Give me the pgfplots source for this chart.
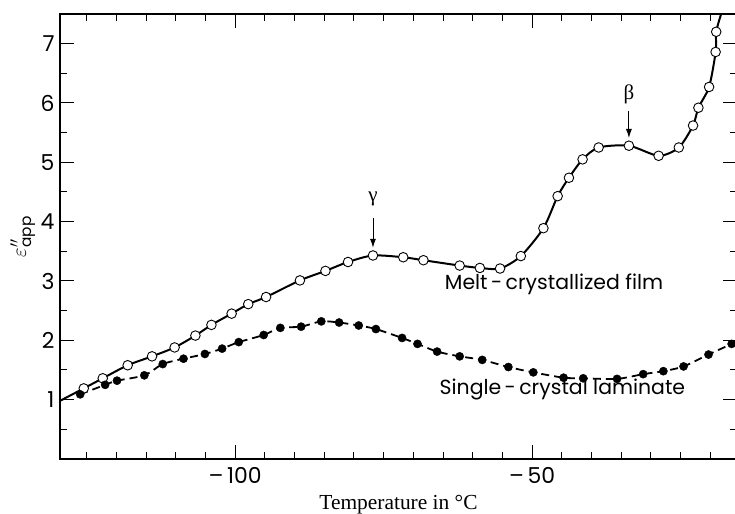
\documentclass[border=0pt]{standalone}
\usepackage{fontspec}
\setmainfont{Poppins}
\newfontfamily\seriff{Liberation Serif}
\usepackage{pgfplots}
\pgfplotsset{compat=1.18}
\usetikzlibrary{arrows.meta}

\pgfplotstableread{
x y
-129.5 0.98
-125.5 1.19
-122.3 1.36
-118.1 1.58
-114.0 1.73
-110.2 1.88
-106.7 2.08
-104.0 2.26
-100.6 2.45
-97.8 2.61
-94.8 2.73
-89.1 3.01
-84.8 3.17
-81.0 3.32
-76.8 3.43
-71.7 3.40
-68.3 3.35
-62.2 3.26
-58.8 3.22
-55.4 3.21
-51.9 3.42
-48.1 3.89
-45.7 4.43
-43.8 4.74
-41.5 5.05
-38.8 5.25
-33.7 5.28
-28.7 5.11
-25.3 5.25
-22.9 5.62
-22.0 5.92
-20.2 6.27
-19.1 6.86
-19.0 7.20
-18.2 7.49
}\meltline

\pgfplotstableread{
x y
-125.5 1.19
-122.3 1.36
-118.1 1.58
-114.0 1.73
-110.2 1.88
-106.7 2.08
-104.0 2.26
-100.6 2.45
-97.8 2.61
-94.8 2.73
-89.1 3.01
-84.8 3.17
-81.0 3.32
-76.8 3.43
-71.7 3.40
-68.3 3.35
-62.2 3.26
-58.8 3.22
-55.4 3.21
-51.9 3.42
-48.1 3.89
-45.7 4.43
-43.8 4.74
-41.5 5.05
-38.8 5.25
-33.7 5.28
-28.7 5.11
-25.3 5.25
-22.9 5.62
-22.0 5.92
-20.2 6.27
-19.1 6.86
-19.0 7.20
}\meltmarks

\pgfplotstableread{
x y
-126.1 1.09
-121.9 1.25
-119.9 1.32
-115.3 1.41
-112.2 1.60
-108.7 1.69
-105.1 1.77
-102.2 1.86
-99.4 1.97
-95.2 2.09
-92.4 2.21
-88.9 2.23
-85.5 2.32
-82.5 2.30
-79.2 2.25
-76.3 2.19
-71.9 2.04
-69.3 1.94
-66.0 1.81
-62.2 1.73
-58.4 1.67
-54.0 1.55
-49.8 1.46
-44.7 1.37
-41.4 1.36
-35.7 1.35
-31.3 1.43
-27.9 1.48
-24.5 1.56
-20.3 1.76
-16.4 1.94
}\single

\begin{document}
\begin{tikzpicture}
\begin{axis}[
  scale only axis, width=677bp, height=445bp,
  xmin=-129.5, xmax=-15.5, ymin=0, ymax=7.5,
  xtick={-100,-50}, xticklabels={{–\,100},{–\,50}},
  minor xtick={-125,-120,...,-20},
  ytick={1,2,...,7}, minor ytick={0.5,1.5,...,7.5},
  tick align=inside, xtick pos=both, ytick pos=both,
  major tick length=14bp, minor tick length=7bp,
  tick style={line width=1pt, black},
  axis line style={line width=1.2pt},
  /pgf/number format/assume math mode=true,
  tick label style={font=\fontsize{22}{24}\selectfont},
  xticklabel style={yshift=-5bp},
  yticklabel style={xshift=-2bp},
  xlabel={Temperature in °C},
  every axis x label/.style={at={(axis description cs:0.5,-0.103)}, anchor=center, font=\seriff\fontsize{21.5}{24}\selectfont},
  ylabel={$\varepsilon''_{\mathrm{app}}$},
  every axis y label/.style={at={(axis description cs:-0.055,0.5)}, rotate=90, anchor=center, font=\fontsize{22}{24}\selectfont},
]
\addplot[black, line width=2pt, smooth, tension=0.45, no marks] table {\meltline};
\addplot[only marks, mark=*, mark size=4.8bp, mark options={fill=white, draw=black, line width=0.9pt}] table {\meltmarks};
\addplot[black, line width=1.8pt, smooth, tension=0.45, dash pattern=on 8bp off 5bp, no marks] table {\single};
\addplot[only marks, mark=*, mark size=4.1bp, mark options={fill=black, draw=black}] table {\single};

\draw[line width=0.9pt, -{Latex[length=9bp,width=6bp]}] (axis cs:-76.8,4.06) -- (axis cs:-76.8,3.56);
\node at (axis cs:-76.8,4.39) {\seriff\fontsize{21}{22}\selectfont γ};
\draw[line width=0.9pt, -{Latex[length=9bp,width=6bp]}] (axis cs:-33.7,5.86) -- (axis cs:-33.7,5.41);
\node at (axis cs:-33.7,6.14) {\seriff\fontsize{21}{22}\selectfont β};

\node at (axis cs:-46.3,2.94) {\fontsize{20.5}{22}\selectfont Melt\,-\,crystallized film};
\node at (axis cs:-44.9,1.17) {\fontsize{20.5}{22}\selectfont Single\,-\,crystal laminate};

\coordinate (bl) at (rel axis cs:0,0);
\coordinate (tr) at (rel axis cs:1,1);
\end{axis}
\pgfresetboundingbox
\path[use as bounding box] ([shift={(-60bp,-55bp)}]bl) rectangle ([shift={(-2bp,14bp)}]tr);
\end{tikzpicture}
\end{document}
